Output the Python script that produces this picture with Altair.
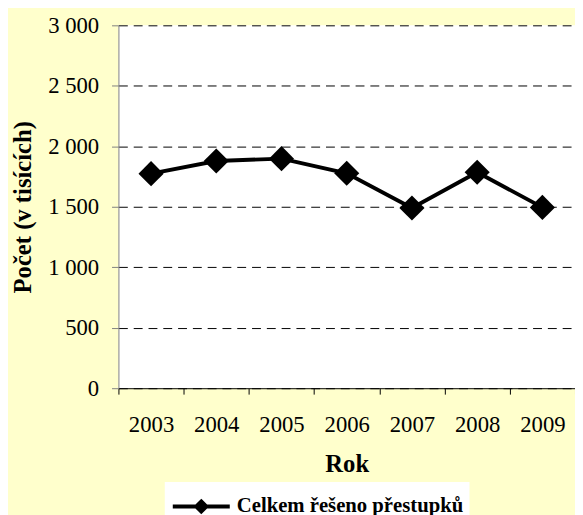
import altair as alt
import pandas as pd

years = ["2003", "2004", "2005", "2006", "2007", "2008", "2009"]
values = [1774, 1878, 1898, 1777, 1490, 1785, 1495]
series_name = "Celkem řešeno přestupků"
y_ticks = [0, 500, 1000, 1500, 2000, 2500, 3000]

df = pd.DataFrame({"Rok": years, "Počet": values, "Série": [series_name] * len(years)})

FONT = "Liberation Serif"
legend_path = "M-1.7,0L1.7,0M0,-0.3L0.3,0L0,0.3L-0.3,0Z"

chart = alt.Chart(df).mark_line(
    strokeWidth=4,
    point=alt.OverlayMarkDef(shape="diamond", size=650, filled=True, color="black", opacity=1),
).encode(
    x=alt.X(
        "Rok:O",
        bandPosition=0.5,
        scale=alt.Scale(type="band", paddingInner=0, paddingOuter=0),
        axis=alt.Axis(
            title="Rok", tickBand="extent", labelAngle=0,
            labelFont=FONT, labelFontSize=23, labelColor="black", labelPadding=20,
            tickSize=6, tickColor="black", domainColor="black",
            titleFont=FONT, titleFontSize=25, titleFontWeight="bold", titleColor="black",
            titlePadding=15, grid=False,
        ),
    ),
    y=alt.Y(
        "Počet:Q",
        scale=alt.Scale(domain=[0, 3000], nice=False),
        axis=alt.Axis(
            title="Počet (v tisících)", values=y_ticks,
            labelExpr="replace(format(datum.value, ','), ',', ' ')",
            labelFont=FONT, labelFontSize=23, labelColor="black", labelPadding=13,
            tickSize=7, tickColor="#808080", domainColor="#808080",
            grid=True, gridColor="black", gridDash=[9, 6], gridWidth=1,
            titleFont=FONT, titleFontSize=25, titleFontWeight="bold", titleColor="black",
            titlePadding=12,
        ),
    ),
    color=alt.Color(
        "Série:N",
        scale=alt.Scale(range=["black"]),
        legend=alt.Legend(
            title=None, orient="none", legendX=47, legendY=463,
            fillColor="white", padding=6,
            labelFont=FONT, labelFontSize=21, labelFontWeight="bold", labelColor="black",
            labelOffset=17, labelLimit=500, symbolOffset=12,
            symbolType=legend_path, symbolSize=1156, symbolStrokeWidth=4,
            symbolFillColor="black", symbolStrokeColor="black",
        ),
    ),
).properties(
    width=463, height=368,
    padding={"left": 112, "top": 14, "right": 0, "bottom": 125},
    autosize=alt.AutoSizeParams(type="none"),
    background="#FFFFCC",
).configure_view(fill="white", stroke=None)

chart.save("out.html", embed_options={"renderer": "svg", "actions": False})
